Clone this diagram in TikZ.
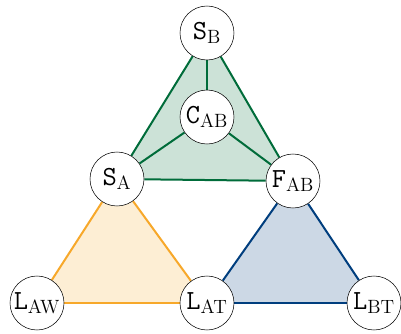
\documentclass[tikz,border=0pt]{standalone}
\usetikzlibrary{backgrounds}

\definecolor{leafgreen}{RGB}{0,108,58}
\definecolor{sunorange}{RGB}{247,168,42}
\definecolor{deepblue}{RGB}{0,62,126}

\begin{document}
\begin{tikzpicture}[x=0.75pt,y=-0.75pt,
    agent/.style ={circle, draw, fill=white, minimum size=40.5pt, inner sep=0pt,
                   font=\fontsize{20.5}{24}\selectfont},
    link/.style ={line width=1.5pt}]
   \useasboundingbox (0,0) rectangle (401,333);

   \node[agent] (SB)  at (207,33)  {$\mathtt{S}_{\mathrm{B}}$};
   \node[agent] (CAB) at (207,117) {$\mathtt{C}_{\mathrm{AB}}$};
   \node[agent] (SA)  at (117,179) {$\mathtt{S}_{\mathrm{A}}$};
   \node[agent] (FAB) at (293,181) {$\mathtt{F}_{\mathrm{AB}}$};
   \node[agent] (LAW) at (37,303)  {$\mathtt{L}_{\mathrm{AW}}$};
   \node[agent] (LAT) at (207,303) {$\mathtt{L}_{\mathrm{AT}}$};
   \node[agent] (LBT) at (374,303) {$\mathtt{L}_{\mathrm{BT}}$};

   \begin{pgfonlayer}{background}
   % shaded triangles
   \fill[leafgreen!20] (SA.center) -- (SB.center) -- (FAB.center) -- cycle;
   \fill[sunorange!20] (LAW.center) -- (SA.center) -- (LAT.center) -- cycle;
   \fill[deepblue!20] (LAT.center) -- (FAB.center) -- (LBT.center) -- cycle;

   \draw[link,leafgreen] (SA) to (SB);
   \draw[link,leafgreen] (SB) to (FAB);
   \draw[link,leafgreen] (SA) to (FAB);
   \draw[link,leafgreen] (CAB) to (SB);
   \draw[link,leafgreen] (CAB) to (SA);
   \draw[link,leafgreen] (CAB) to (FAB);
   \draw[link,sunorange] (LAW) to (SA);
   \draw[link,sunorange] (SA) to (LAT);
   \draw[link,sunorange] (LAW) to (LAT);
   \draw[link,deepblue] (LAT) to (FAB);
   \draw[link,deepblue] (FAB) to (LBT);
   \draw[link,deepblue] (LAT) to (LBT);
   \end{pgfonlayer}
 \end{tikzpicture}
\end{document}
